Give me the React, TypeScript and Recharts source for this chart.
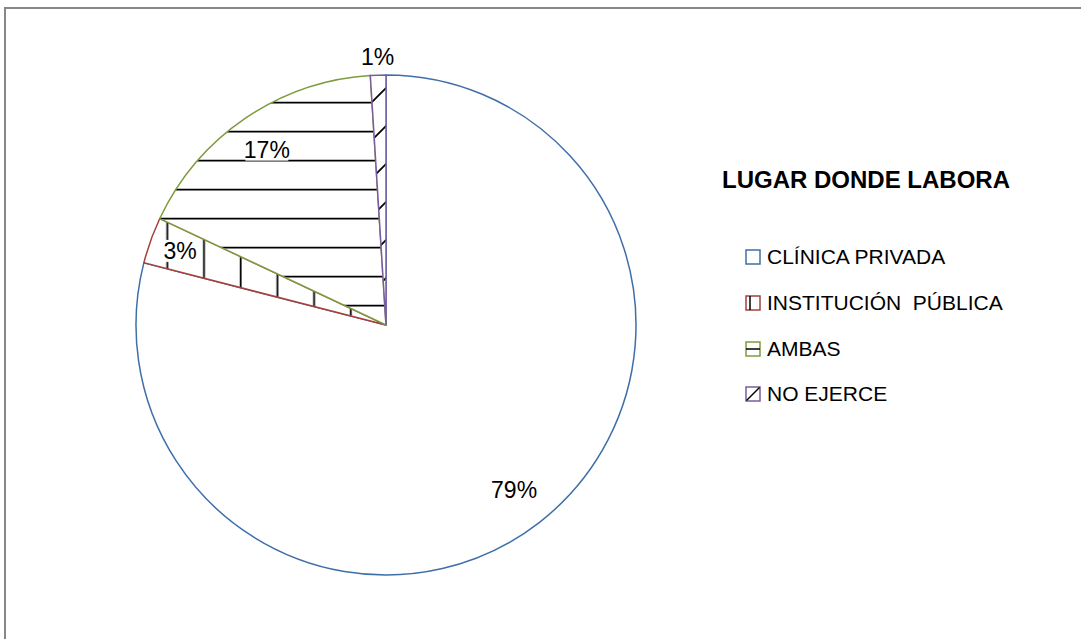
import { Cell, Legend, Pie, PieChart } from "recharts"

const CATEGORIES = ["CLÍNICA PRIVADA", "INSTITUCIÓN  PÚBLICA", "AMBAS", "NO EJERCE"]
const PERCENTAGES = [79, 3, 17, 1]
const LEGEND_TITLE = "LUGAR DONDE LABORA"

const STROKES = ["#3F6FA8", "#A5403D", "#7E9B3F", "#7A5C9E"]
const FILLS = ["#ffffff", "url(#hatch-v)", "url(#hatch-h)", "url(#hatch-d)"]
// how far from the centre each label sits, as a share of the radius
const LABEL_RADIUS = [0.836, 0.875, 0.848, 1.072]

const FONT = "'Liberation Sans', Arial, sans-serif"
const RADIAN = Math.PI / 180

const data = CATEGORIES.map((name, i) => ({ name, value: PERCENTAGES[i] }))

function renderLabel(props: any) {
  const { cx, cy, midAngle, outerRadius, index, value } = props
  const r = outerRadius * LABEL_RADIUS[index]
  const x = cx + r * Math.cos(-midAngle * RADIAN)
  const y = cy + r * Math.sin(-midAngle * RADIAN)
  const text = `${value}%`
  const w = text.length * 13 + 4
  return (
    <g key={`label-${index}`}>
      <rect x={x - w / 2} y={y - 11} width={w} height={22} fill="#fff" />
      <text
        x={x}
        y={y}
        textAnchor="middle"
        dominantBaseline="central"
        fontFamily={FONT}
        fontSize={23}
        fill="#000"
      >
        {text}
      </text>
    </g>
  )
}

function Swatch({ index }: { index: number }) {
  const color = STROKES[index]
  return (
    <svg width={16} height={16} style={{ display: "block" }}>
      <rect x={1} y={1} width={14} height={14} fill="#fff" stroke={color} strokeWidth={1.5} />
      {index === 1 && <line x1={5} y1={1} x2={5} y2={15} stroke="#000" strokeWidth={1.5} />}
      {index === 2 && <line x1={1} y1={8} x2={15} y2={8} stroke="#000" strokeWidth={1.5} />}
      {index === 3 && <line x1={1.5} y1={14.5} x2={14.5} y2={1.5} stroke="#000" strokeWidth={1.5} />}
    </svg>
  )
}

function renderLegend() {
  return (
    <div style={{ fontFamily: FONT, color: "#000" }}>
      <div style={{ fontWeight: 700, fontSize: 24, lineHeight: "30px", height: 30, whiteSpace: "nowrap" }}>
        {LEGEND_TITLE}
      </div>
      <div style={{ height: 39.5 }} />
      {CATEGORIES.map((name) => name).map((name, i) => (
        <div
          key={name}
          style={{ display: "flex", alignItems: "center", height: 45.7, paddingLeft: 23 }}
        >
          <Swatch index={i} />
          <span style={{ fontSize: 21, marginLeft: 6, whiteSpace: "pre" }}>{name}</span>
        </div>
      ))}
    </div>
  )
}

export default function App() {
  return (
    <div
      style={{
        position: "fixed",
        left: 0,
        top: 0,
        width: 1081,
        height: 639,
        overflow: "hidden",
        background: "#fff",
      }}
    >
      <PieChart width={1081} height={639} margin={{ top: 0, right: 0, bottom: 0, left: 0 }}>
        <defs>
          <pattern id="hatch-h" patternUnits="userSpaceOnUse" width={40} height={29}>
            <rect width={40} height={29} fill="#fff" />
            <line x1={0} y1={15.7} x2={40} y2={15.7} stroke="#000" strokeWidth={1.8} />
          </pattern>
          <pattern id="hatch-v" patternUnits="userSpaceOnUse" width={36.7} height={40}>
            <rect width={36.7} height={40} fill="#fff" />
            <line x1={20.5} y1={0} x2={20.5} y2={40} stroke="#000" strokeWidth={1.8} />
          </pattern>
          <pattern id="hatch-d" patternUnits="userSpaceOnUse" x={18} width={38} height={38}>
            <rect width={38} height={38} fill="#fff" />
            <line x1={-2} y1={40} x2={40} y2={-2} stroke="#000" strokeWidth={1.8} />
          </pattern>
        </defs>
        <Pie
          data={data}
          dataKey="value"
          nameKey="name"
          cx={386}
          cy={325}
          outerRadius={250}
          startAngle={90}
          endAngle={-270}
          label={renderLabel}
          labelLine={false}
          isAnimationActive={false}
        >
          {data.map((entry, i) => (
            <Cell key={`cell-${entry.name}`} fill={FILLS[i]} stroke={STROKES[i]} strokeWidth={1.5} />
          ))}
        </Pie>
        <Legend
          content={renderLegend}
          wrapperStyle={{ position: "absolute", left: 722, top: 165, width: 350, height: 260 }}
        />
      </PieChart>
      <div
        style={{
          position: "absolute",
          left: 4,
          top: 7,
          width: 1200,
          height: 800,
          border: "2px solid #878787",
          pointerEvents: "none",
        }}
      />
    </div>
  )
}
